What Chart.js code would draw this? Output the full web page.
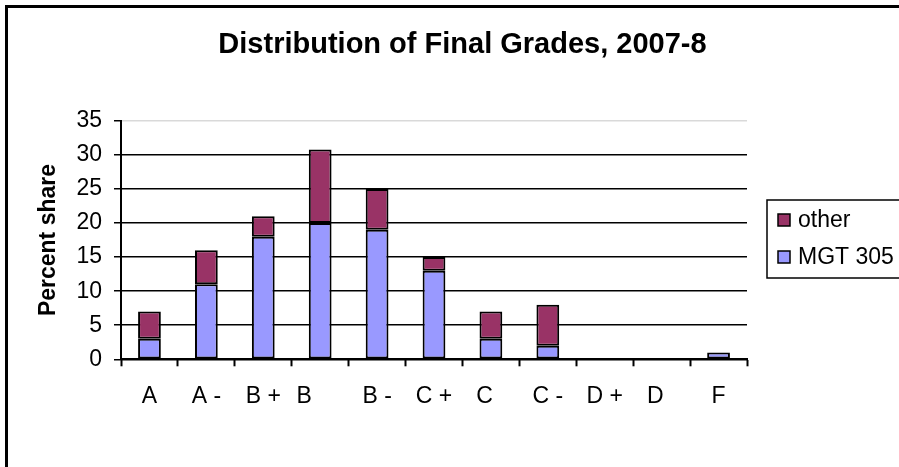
<!DOCTYPE html>
<html>
<head>
<meta charset="utf-8">
<title>Distribution of Final Grades, 2007-8</title>
<script src="https://cdn.jsdelivr.net/npm/chart.js@4"></script>
<style>
  html, body { margin: 0; padding: 0; background: #fff; overflow: hidden; }
  canvas { display: block; }
</style>
</head>
<body>
<canvas id="gradesChart" width="899" height="467"></canvas>
<script>
// Chart data
const grades = ["A", "A -", "B +", "B", "B -", "C +", "C", "C -", "D +", "D", "F"];
const mgt305 = [3, 11, 18, 20, 19, 13, 3, 2, 0, 0, 1];
const other = [4, 5, 3, 10.8, 6, 2, 4, 6, 0, 0, 0];
const yTicks = [0, 5, 10, 15, 20, 25, 30, 35];

const FONT = "'Liberation Sans', Arial, sans-serif";

// single letter labels sit a bit left of their bar in the original
const trailingSpaces = { B: 5, C: 2, D: 2 };

// White background + outer frame (right/bottom edges fall outside the picture)
const framePlugin = {
  id: "frame",
  afterLayout(chart) {
    // title is centred on the whole chart, not on the plot + padding
    chart.titleBlock.left = 26;
    chart.titleBlock.right = chart.width;
  },
  beforeDraw(chart) {
    const ctx = chart.ctx;
    ctx.save();
    ctx.fillStyle = "#fff";
    ctx.fillRect(0, 0, chart.width, chart.height);
    ctx.strokeStyle = "#000";
    ctx.lineWidth = 3;
    ctx.strokeRect(6.5, 6.5, chart.width + 20, chart.height + 20);
    ctx.restore();
  },
};

// Boxed legend on the right, top entry = top of the stack
const boxLegendPlugin = {
  id: "boxLegend",
  afterDraw(chart) {
    const ctx = chart.ctx;
    const sets = chart.data.datasets.slice().reverse();
    ctx.save();
    ctx.strokeStyle = "#000";
    ctx.lineWidth = 1.5;
    ctx.strokeRect(767, 200, 160, 78);
    ctx.font = "23px " + FONT;
    ctx.textBaseline = "middle";
    ctx.textAlign = "left";
    sets.forEach((ds, i) => {
      const y = 220 + i * 37;
      ctx.fillStyle = ds.backgroundColor;
      ctx.fillRect(778, y - 6, 12, 12);
      ctx.lineWidth = 1.5;
      ctx.strokeRect(778, y - 6, 12, 12);
      ctx.fillStyle = "#000";
      ctx.fillText(ds.label, 798, y + 1);
    });
    ctx.restore();
  },
};

const chart = new Chart(document.getElementById("gradesChart"), {
  type: "bar",
  data: {
    labels: grades,
    datasets: [
      {
        label: "MGT 305",
        data: mgt305,
        backgroundColor: "#9999FF",
        borderColor: "#000",
        borderWidth: 2,
        borderSkipped: false,
      },
      {
        label: "other",
        data: other,
        backgroundColor: "#993366",
        borderColor: "#000",
        borderWidth: 2,
        borderSkipped: false,
      },
    ],
  },
  options: {
    responsive: false,
    animation: false,
    events: [],
    barPercentage: 0.4,
    categoryPercentage: 1.0,
    layout: { padding: { left: 0, right: 152, top: 0, bottom: 0 } },
    plugins: {
      legend: { display: false },
      tooltip: { enabled: false },
      title: {
        display: true,
        text: "Distribution of Final Grades, 2007-8",
        color: "#000",
        font: { family: FONT, size: 29, weight: "bold" },
        padding: { top: 28, bottom: 58 },
      },
    },
    scales: {
      x: {
        stacked: true,
        grid: {
          offset: true,
          drawOnChartArea: false,
          tickLength: 7,
          tickColor: "#000",
          tickWidth: 2,
        },
        border: { color: "#000", width: 2 },
        ticks: {
          color: "#000",
          font: { family: FONT, size: 23 },
          padding: 17,
          maxRotation: 0,
          autoSkip: false,
          callback: function (value) {
            const label = this.getLabelForValue(value);
            return label + " ".repeat(trailingSpaces[label] || 0);
          },
        },
        afterFit(scale) {
          scale.height = 107.7;
        },
      },
      y: {
        stacked: true,
        min: 0,
        max: 35,
        afterBuildTicks(scale) {
          scale.ticks = yTicks.map((v) => ({ value: v }));
        },
        ticks: {
          color: "#000",
          font: { family: FONT, size: 23 },
          padding: 12,
        },
        grid: {
          color: (ctx) => (ctx.tick && ctx.tick.value === 35 ? "#d9d9d9" : "#000"),
          lineWidth: 1.5,
          tickColor: "#000",
          tickLength: 7,
        },
        border: { color: "#000", width: 2 },
        title: {
          display: true,
          text: "Percent share",
          color: "#000",
          font: { family: FONT, size: 23, weight: "bold" },
          padding: { top: 35, bottom: 0 },
        },
        afterFit(scale) {
          scale.width = 121;
        },
      },
    },
  },
  plugins: [framePlugin, boxLegendPlugin],
});
</script>
</body>
</html>
